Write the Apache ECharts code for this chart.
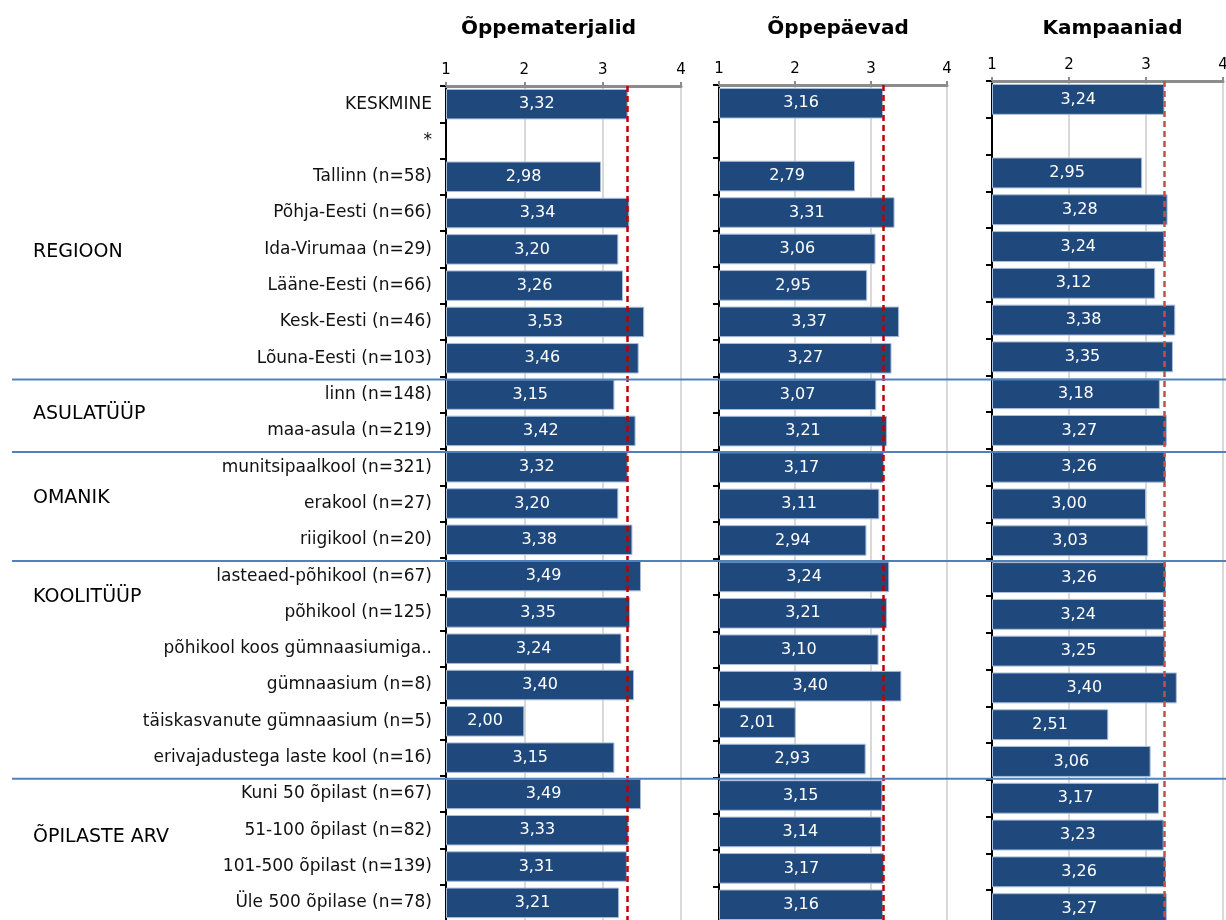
<!DOCTYPE html>
<html>
<head>
<meta charset="utf-8">
<script src="https://cdn.jsdelivr.net/npm/echarts@6/dist/echarts.min.js"></script>
<style>
  html, body { margin: 0; padding: 0; background: #fff; }
  #chart { width: 1226px; height: 920px; }
</style>
</head>
<body>
<div id="chart"></div>
<script>
const categories = [
  'KESKMINE', '*',
  'Tallinn (n=58)', 'Põhja-Eesti (n=66)', 'Ida-Virumaa (n=29)', 'Lääne-Eesti (n=66)',
  'Kesk-Eesti (n=46)', 'Lõuna-Eesti (n=103)',
  'linn (n=148)', 'maa-asula (n=219)',
  'munitsipaalkool (n=321)', 'erakool (n=27)', 'riigikool (n=20)',
  'lasteaed-põhikool (n=67)', 'põhikool (n=125)', 'põhikool koos gümnaasiumiga..',
  'gümnaasium (n=8)', 'täiskasvanute gümnaasium (n=5)', 'erivajadustega laste kool (n=16)',
  'Kuni 50 õpilast (n=67)', '51-100 õpilast (n=82)', '101-500 õpilast (n=139)', 'Üle 500 õpilase (n=78)'
];
const oppematerjalid = [3.32, null, 2.98, 3.34, 3.20, 3.26, 3.53, 3.46, 3.15, 3.42, 3.32, 3.20, 3.38,
  3.49, 3.35, 3.24, 3.40, 2.00, 3.15, 3.49, 3.33, 3.31, 3.21];
const oppepaevad = [3.16, null, 2.79, 3.31, 3.06, 2.95, 3.37, 3.27, 3.07, 3.21, 3.17, 3.11, 2.94,
  3.24, 3.21, 3.10, 3.40, 2.01, 2.93, 3.15, 3.14, 3.17, 3.16];
const kampaaniad = [3.24, null, 2.95, 3.28, 3.24, 3.12, 3.38, 3.35, 3.18, 3.27, 3.26, 3.00, 3.03,
  3.26, 3.24, 3.25, 3.40, 2.51, 3.06, 3.17, 3.23, 3.26, 3.27];
const panelTitles = ['Õppematerjalid', 'Õppepäevad', 'Kampaaniad'];
const averages = [3.32, 3.16, 3.24];
const xMin = 1;
const xMax = 4;
const groupNames = ['REGIOON', 'ASULATÜÜP', 'OMANIK', 'KOOLITÜÜP', 'ÕPILASTE ARV'];
// last category of each group, a blue rule goes under it
const groupEnds = ['Lõuna-Eesti (n=103)', 'maa-asula (n=219)', 'riigikool (n=20)', 'erivajadustega laste kool (n=16)'];

const FONT = 'DejaVu Sans';
const seriesData = [oppematerjalid, oppepaevad, kampaaniad];

const grids = [
  { left: 446, right: 545, top: 86, bottom: -1 },
  { left: 719, right: 279, top: 85, bottom: -3 },
  { left: 992, right: 3, top: 81, bottom: -7 }
];
const lineColors = ['#C00000', '#C00000', '#C0504D'];
const titleShift = [-15, 5, 5];

const fmt = v => v.toFixed(2).replace('.', ',');

const chart = echarts.init(document.getElementById('chart'), null, { renderer: 'canvas' });

const option = {
  animation: false,
  backgroundColor: '#fff',
  textStyle: { fontFamily: FONT },
  grid: grids.map(g => Object.assign({ outerBoundsMode: 'none', containLabel: false }, g)),
  xAxis: grids.map((g, i) => ({
    gridIndex: i,
    type: 'value',
    position: 'top',
    min: xMin,
    max: xMax,
    interval: 1,
    startValue: xMin,
    axisLine: { show: true, lineStyle: { color: '#8c8c8c', width: 3 } },
    axisTick: { show: true, length: 4, lineStyle: { color: '#8c8c8c', width: 2 } },
    axisLabel: { color: '#000', fontSize: 15, fontFamily: FONT, margin: 8 },
    splitLine: { show: true, lineStyle: { color: '#d9d9d9', width: 2 } }
  })),
  yAxis: grids.map((g, i) => ({
    gridIndex: i,
    type: 'category',
    inverse: true,
    data: categories,
    axisLine: { show: true, lineStyle: { color: '#000', width: 2 } },
    axisTick: { show: true, length: 6, interval: 0, lineStyle: { color: '#000', width: 2 } },
    axisLabel: {
      show: i === 0, interval: 0, color: '#111', fontSize: 17, fontFamily: FONT, margin: 14
    },
    splitLine: { show: false }
  })),
  series: seriesData.map((d, i) => ({
    type: 'bar',
    xAxisIndex: i,
    yAxisIndex: i,
    data: d,
    barCategoryGap: '16%',
    itemStyle: { color: '#1F497D', borderColor: '#A9BDDA', borderWidth: 1 },
    label: {
      show: true,
      position: 'inside',
      color: '#fff',
      fontSize: 16,
      fontFamily: FONT,
      formatter: p => (p.value == null ? '' : fmt(p.value))
    },
    markLine: {
      silent: true,
      symbol: 'none',
      label: { show: false },
      lineStyle: { color: lineColors[i], type: [6, 4], width: 2.5 },
      data: [{ xAxis: averages[i] }]
    }
  }))
};

chart.setOption(option);

// titles, group names and blue separators placed from the axes
const graphics = [];
grids.forEach((g, i) => {
  const x0 = chart.convertToPixel({ xAxisIndex: i }, xMin);
  const x1 = chart.convertToPixel({ xAxisIndex: i }, xMax);
  graphics.push({
    type: 'text',
    x: (x0 + x1) / 2 + titleShift[i],
    y: 29,
    style: {
      text: panelTitles[i], fill: '#000', font: 'bold 20px "' + FONT + '"',
      align: 'center', verticalAlign: 'middle'
    }
  });
});

const rowY = name => chart.convertToPixel({ yAxisIndex: 0 }, name);
groupEnds.forEach(name => {
  const idx = categories.indexOf(name);
  const y = (rowY(categories[idx]) + rowY(categories[idx + 1])) / 2 + 3;
  graphics.push({
    type: 'line',
    shape: { x1: 12, y1: y, x2: 1226, y2: y },
    style: { stroke: '#4F81BD', lineWidth: 2 },
    z: 100
  });
});

const groupLabelY = [252, 414, 498, 597, 837];
groupNames.forEach((name, i) => {
  graphics.push({
    type: 'text',
    x: 33,
    y: groupLabelY[i],
    style: {
      text: name, fill: '#000', font: '19px "' + FONT + '"',
      align: 'left', verticalAlign: 'middle'
    }
  });
});

chart.setOption({ graphic: graphics });
</script>
</body>
</html>
